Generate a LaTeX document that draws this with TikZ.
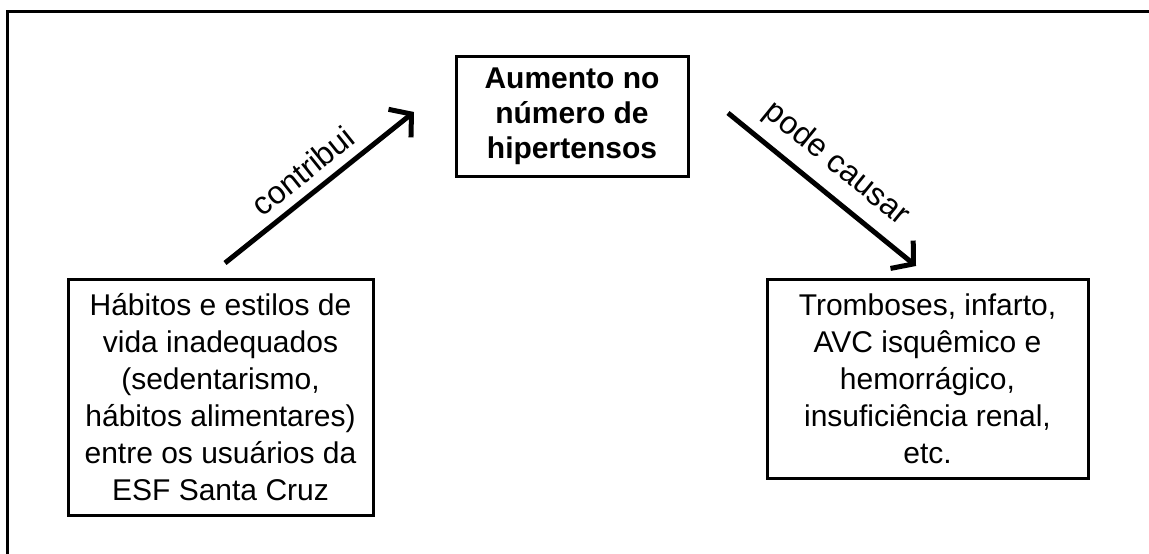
\documentclass[tikz,border=0pt]{standalone}
\usepackage{fontspec}
\setmainfont{Liberation Sans}
\usepackage{tikz}
\usetikzlibrary{arrows.meta}
\tikzstyle{arrow} = [line width=5pt,-{Straight Barb[length=15pt,width=36pt]}]

\begin{document}
\begin{tikzpicture}[x=1pt, y=-1pt,
box/.style={draw, line width=3pt, inner sep=0pt, align=center, font=\fontsize{30}{37}\selectfont},
midbox/.style={box, font=\bfseries\fontsize{30}{35}\selectfont},
arrowtxt/.style={sloped, font=\fontsize{32}{38}\selectfont},]
\useasboundingbox (0,0) rectangle (1149,554);
\draw[line width=3pt] (7,554) -- (7,11) -- (1149,11);
\node[midbox, minimum width=232pt, minimum height=120pt](aumento) at (572,116)
 {Aumento no\\número de\\hipertensos};
\node[box, minimum width=305pt, minimum height=236pt](habitos) at (220.5,397)
 {Hábitos e estilos de\\vida inadequados\\(sedentarismo,\\hábitos alimentares)\\entre os usuários da\\ESF Santa Cruz};
\node[box, minimum width=321pt, minimum height=199pt](doencas) at (927.5,378.5)
 {Tromboses, infarto,\\AVC isquêmico e\\hemorrágico,\\insuficiência renal,\\etc.};
\coordinate (contribstart) at (225,263);
\coordinate (contribend) at (414,112);
\coordinate (causarstart) at (728,113);
\coordinate (causarend) at (916,266);
\draw[arrow] (contribstart) -- node[arrowtxt, above=6pt, pos=0.49]{contribui} (contribend);
\draw[arrow] (causarstart) -- node[arrowtxt, above=8pt, pos=0.48]{pode causar} (causarend);
\end{tikzpicture}
\end{document}
